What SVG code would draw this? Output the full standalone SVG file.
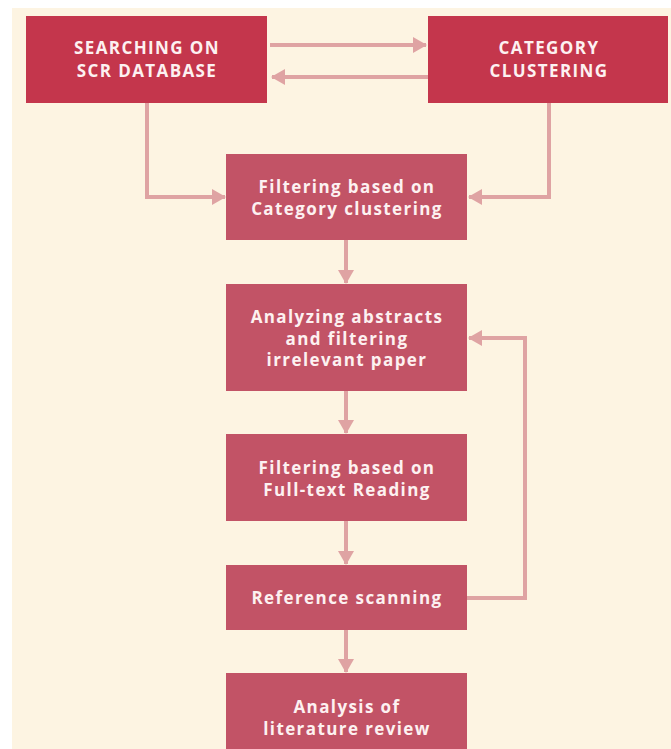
<svg xmlns="http://www.w3.org/2000/svg" width="671" height="749" viewBox="0 0 671 749">
<style>
.top{fill:#C4364C}
.box{fill:#C25366}
.t{font-family:"Open Sans","Liberation Sans",sans-serif;font-weight:700;font-size:17px;fill:#FDF1F1;text-anchor:middle;letter-spacing:1.4px}
.c{fill:none;stroke:#DFA3A3;stroke-width:4}
</style>
<defs>
<marker id="ah" markerUnits="userSpaceOnUse" markerWidth="14" markerHeight="16" refX="13" refY="8" orient="auto">
<path d="M0,0 L14,8 L0,16 Z" fill="#DFA3A3"/>
</marker>
</defs>
<rect x="0" y="0" width="671" height="749" fill="#FFFFFF"/>
<rect x="12" y="8" width="659" height="741" fill="#FDF4E2"/>
<g id="connectors">
<line class="c" x1="270" y1="45" x2="426" y2="45" marker-end="url(#ah)"/>
<line class="c" x1="428" y1="77" x2="272" y2="77" marker-end="url(#ah)"/>
<polyline class="c" points="147,103 147,197 225,197" marker-end="url(#ah)"/>
<polyline class="c" points="549,103 549,197 469,197" marker-end="url(#ah)"/>
<line class="c" x1="346" y1="240" x2="346" y2="283" marker-end="url(#ah)"/>
<line class="c" x1="346" y1="391" x2="346" y2="433" marker-end="url(#ah)"/>
<line class="c" x1="346" y1="521" x2="346" y2="564" marker-end="url(#ah)"/>
<polyline class="c" points="467,598 525,598 525,338 469,338" marker-end="url(#ah)"/>
<line class="c" x1="346" y1="630" x2="346" y2="672" marker-end="url(#ah)"/>
</g>
<g id="searching">
<rect class="top" x="26" y="16" width="241" height="87"/>
<text class="t" x="147" y="54">SEARCHING ON</text>
<text class="t" x="147" y="77">SCR DATABASE</text>
</g>
<g id="category">
<rect class="top" x="428" y="16" width="240" height="87"/>
<text class="t" x="549" y="54">CATEGORY</text>
<text class="t" x="549" y="77">CLUSTERING</text>
</g>
<g id="filter-category">
<rect class="box" x="226" y="154" width="241" height="86"/>
<text class="t" x="347" y="193">Filtering based on</text>
<text class="t" x="347" y="215">Category clustering</text>
</g>
<g id="abstracts">
<rect class="box" x="226" y="284" width="241" height="107"/>
<text class="t" x="347" y="323">Analyzing abstracts</text>
<text class="t" x="347" y="345">and filtering</text>
<text class="t" x="347" y="366">irrelevant paper</text>
</g>
<g id="fulltext">
<rect class="box" x="226" y="434" width="241" height="87"/>
<text class="t" x="347" y="474">Filtering based on</text>
<text class="t" x="347" y="496">Full-text Reading</text>
</g>
<g id="reference">
<rect class="box" x="226" y="565" width="241" height="65"/>
<text class="t" x="347" y="604">Reference scanning</text>
</g>
<g id="analysis">
<rect class="box" x="226" y="673" width="241" height="80"/>
<text class="t" x="347" y="713">Analysis of</text>
<text class="t" x="347" y="735">literature review</text>
</g>
</svg>
